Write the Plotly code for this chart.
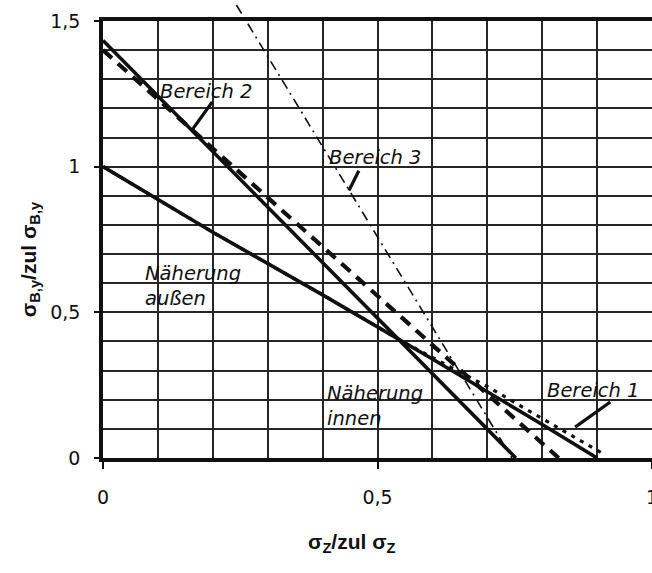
import numpy as np
import plotly.graph_objects as go

# ---- data ----
aussen_x = [0.0, 0.2, 0.4, 0.6, 0.8, 0.9]
aussen_y = [1.0, 0.775, 0.56, 0.34, 0.115, 0.0]

innen_x = [0.0, 0.752]
innen_y = [1.433, 0.0]

bereich1_x = [0.0, 0.2, 0.4, 0.55, 0.7, 0.8, 0.915]
bereich1_y = [1.0, 0.775, 0.56, 0.395, 0.245, 0.135, 0.01]

bereich2_x = [0.0, 0.83]
bereich2_y = [1.40, 0.0]

bereich3_x = [0.243, 0.745]
bereich3_y = [1.555, 0.0]

# leader strokes of the labels
lead_b2_x = [0.161, 0.199]
lead_b2_y = [1.123, 1.222]
lead_b3_x = [0.448, 0.466]
lead_b3_y = [0.918, 0.986]
lead_b1_x = [0.86, 0.924]
lead_b1_y = [0.106, 0.192]

# labels: text, x, y
labels = [
    ("Bereich 2", 0.100, 1.258),
    ("Bereich 3", 0.408, 1.030),
    ("Näherung<br>außen", 0.073, 0.589),
    ("Näherung<br>innen", 0.405, 0.180),
    ("Bereich 1", 0.806, 0.230),
]

x_range = [0.0, 1.0]
y_range = [0.0, 1.5]

INK = "#101010"
GRID = "#262626"

fig = go.Figure()

fig.add_trace(go.Scatter(x=bereich3_x, y=bereich3_y, mode="lines",
                         line=dict(color=INK, width=1.6, dash="10px,5px,2px,5px")))
fig.add_trace(go.Scatter(x=bereich1_x, y=bereich1_y, mode="lines",
                         line=dict(color=INK, width=3.2, dash="4px,6px")))
fig.add_trace(go.Scatter(x=bereich2_x, y=bereich2_y, mode="lines",
                         line=dict(color=INK, width=4.2, dash="12px,8px")))
fig.add_trace(go.Scatter(x=aussen_x, y=aussen_y, mode="lines",
                         line=dict(color=INK, width=3.6)))
fig.add_trace(go.Scatter(x=innen_x, y=innen_y, mode="lines",
                         line=dict(color=INK, width=3.6)))
for lx, ly in [(lead_b2_x, lead_b2_y), (lead_b3_x, lead_b3_y), (lead_b1_x, lead_b1_y)]:
    fig.add_trace(go.Scatter(x=lx, y=ly, mode="lines", line=dict(color=INK, width=3.2)))

# part of Bereich 3 that runs above the frame (x in data, y converted to paper)
top = y_range[1]
x_at_top = float(np.interp(top, bereich3_y[::-1], bereich3_x[::-1]))
fig.add_shape(type="line", xref="x", yref="paper",
              x0=bereich3_x[0], y0=(bereich3_y[0] - y_range[0]) / (y_range[1] - y_range[0]),
              x1=x_at_top, y1=1.0,
              line=dict(color=INK, width=1.6, dash="10px,5px,2px,5px"))

for txt, tx, ty in labels:
    fig.add_annotation(x=tx, y=ty, xref="x", yref="y", text="<i>" + txt + "</i>",
                       showarrow=False, xanchor="left", yanchor="middle", align="left",
                       font=dict(family="DejaVu Sans", size=19.5, color=INK))

# axis titles
fig.add_annotation(x=0.4536, y=-0.1945, xref="paper", yref="paper",
                   text="<b>σ<sub>Z</sub>/zul σ<sub>Z</sub></b>", showarrow=False,
                   xanchor="center", yanchor="middle",
                   font=dict(family="Liberation Sans", size=21, color=INK))
fig.add_annotation(x=-0.133, y=0.455, xref="paper", yref="paper",
                   text="<b>σ<sub>B,y</sub>/zul σ<sub>B,y</sub></b>", showarrow=False,
                   textangle=-90, xanchor="center", yanchor="middle",
                   font=dict(family="Liberation Sans", size=21, color=INK))

fig.update_layout(
    width=652, height=573,
    margin=dict(l=103, r=0, t=21, b=115),
    paper_bgcolor="white", plot_bgcolor="white",
    showlegend=False,
    separators=",.",
    font=dict(family="DejaVu Sans", color=INK),
)
fig.update_xaxes(
    range=x_range, dtick=0.5, tick0=0, automargin=False,
    showgrid=True, gridcolor=GRID, gridwidth=1.6,
    minor=dict(dtick=0.1, showgrid=True, gridcolor=GRID, gridwidth=1.6, ticks=""),
    showline=True, linecolor=INK, linewidth=3.5, mirror=True,
    ticks="outside", ticklen=7, tickwidth=2, tickcolor=INK,
    ticklabelstandoff=12, ticklabeloverflow="allow",
    tickfont=dict(family="DejaVu Sans", size=19, color=INK),
    zeroline=False,
)
fig.update_yaxes(
    range=y_range, dtick=0.5, tick0=0, automargin=False,
    showgrid=True, gridcolor=GRID, gridwidth=1.6,
    minor=dict(dtick=0.1, showgrid=True, gridcolor=GRID, gridwidth=1.6, ticks=""),
    showline=True, linecolor=INK, linewidth=3.5, mirror=False,
    ticks="outside", ticklen=5, tickwidth=2, tickcolor=INK,
    ticklabelstandoff=10,
    tickfont=dict(family="DejaVu Sans", size=19, color=INK),
    zeroline=False,
)

fig.write_html("out.html")
